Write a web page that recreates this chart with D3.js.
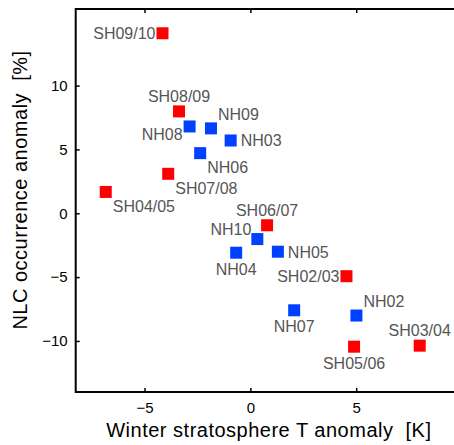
<!DOCTYPE html>
<html>
<head>
<meta charset="utf-8">
<script src="https://cdn.jsdelivr.net/npm/d3@7"></script>
<style>
  html, body { margin: 0; padding: 0; background: #fff; }
  svg { display: block; }
</style>
</head>
<body>
<div id="chart"></div>
<script>
// ---- data ----
const names = ["SH09/10","SH08/09","NH08","NH09","NH03","NH06","SH07/08","SH04/05",
               "NH10","NH04","SH06/07","NH05","SH02/03","NH07","NH02","SH05/06","SH03/04"];
const tempAnomaly = [-4.15,-3.37,-2.87,-1.86,-0.93,-2.37,-3.88,-6.83,
                     0.33,-0.67,0.79,1.30,4.54,2.07,5.01,4.90,8.00];
const nlcAnomaly  = [14.1,7.98,6.8,6.65,5.7,4.71,3.09,1.67,
                     -2.02,-3.09,-0.94,-3.01,-4.93,-7.6,-8.01,-10.45,-10.37];
const hemisphere  = ["SH","SH","NH","NH","NH","NH","SH","SH",
                     "NH","NH","SH","NH","SH","NH","NH","SH","SH"];
const labelSide   = ["left","above","belowLeft","aboveRight","right","belowRight","belowRight","belowRight",
                     "aboveLeft","below","above","right","left","below","aboveRight","below","above"];
const xTicks = [-5, 0, 5];
const yTicks = [-10, -5, 0, 5, 10];
const xLabel = "Winter stratosphere T anomaly\u00a0\u00a0[K]";
const yLabel = "NLC occurrence anomaly\u00a0\u00a0[%]";

// ---- layout ----
const W = 454, H = 445;
const mLeft = 75.7, mTop = 9, mBottom = 392;
const x = d3.scaleLinear().domain([-8.25, 10]).range([mLeft, mLeft + 18.25 * 21.17]);
const y = d3.scaleLinear().domain([-14, 16]).range([mBottom, mTop]);
const color = d3.scaleOrdinal().domain(["SH","NH"]).range(["#ff0000","#0040ff"]);
const font = "'Liberation Sans', Arial, Helvetica, sans-serif";

const svg = d3.select("#chart").append("svg")
  .attr("width", W).attr("height", H)
  .style("font-family", font);

const x0 = x.range()[0], x1 = x.range()[1];
const fmt = d => d < 0 ? "\u2212" + Math.abs(d) : String(d);

// axes (MATLAB-like, ticks inward)
const gx = svg.append("g").attr("transform", `translate(0,${mBottom})`)
  .call(d3.axisBottom(x).tickValues(xTicks).tickSize(-4).tickPadding(10).tickFormat(fmt));
const gxt = svg.append("g").attr("transform", `translate(0,${mTop})`)
  .call(d3.axisTop(x).tickValues(xTicks).tickSize(-4).tickFormat(""));
const gy = svg.append("g").attr("transform", `translate(${mLeft},0)`)
  .call(d3.axisLeft(y).tickValues(yTicks).tickSize(-4).tickPadding(8).tickFormat(fmt));
[gx, gxt, gy].forEach(g => {
  g.select(".domain").remove();
  g.selectAll(".tick line").attr("stroke", "#000").attr("stroke-width", 1.5);
  g.selectAll(".tick text").attr("fill", "#000").style("font-size", "15px").style("font-family", font);
});

// frame lines (left, top, bottom; right is outside the window)
svg.append("path")
  .attr("d", `M${x1},${mTop}H${mLeft}V${mBottom}H${x1}`)
  .attr("fill", "none").attr("stroke", "#000").attr("stroke-width", 2);

// markers
const size = 12;
svg.append("g").selectAll("rect").data(names).join("rect")
  .attr("x", (d, i) => x(tempAnomaly[i]) - size / 2)
  .attr("y", (d, i) => y(nlcAnomaly[i]) - size / 2)
  .attr("width", size).attr("height", size)
  .attr("fill", (d, i) => color(hemisphere[i]));

// point labels
const place = {
  left:       {anchor: "end",    dx: -7, dy: 5.5},
  right:      {anchor: "start",  dx: 10, dy: 6},
  above:      {anchor: "middle", dx: 0,  dy: -9.5},
  below:      {anchor: "middle", dx: 0,  dy: 22},
  aboveRight: {anchor: "start",  dx: 7,  dy: -8.7},
  belowRight: {anchor: "start",  dx: 7,  dy: 20},
  belowLeft:  {anchor: "end",    dx: -7, dy: 14},
  aboveLeft:  {anchor: "end",    dx: -6, dy: -4}
};
svg.append("g").selectAll("text").data(names).join("text")
  .attr("x", (d, i) => x(tempAnomaly[i]) + place[labelSide[i]].dx)
  .attr("y", (d, i) => y(nlcAnomaly[i]) + place[labelSide[i]].dy)
  .attr("text-anchor", (d, i) => place[labelSide[i]].anchor)
  .attr("fill", "#555")
  .style("font-size", "16px")
  .text(d => d);

// axis titles
svg.append("text")
  .attr("x", (x0 + x1) / 2).attr("y", 436.7)
  .attr("text-anchor", "middle")
  .style("font-size", "20px").style("letter-spacing", "0.5px")
  .attr("fill", "#000")
  .text(xLabel);
svg.append("text")
  .attr("transform", `translate(26.5,190) rotate(-90)`)
  .attr("text-anchor", "middle")
  .style("font-size", "20px").style("letter-spacing", "0.5px")
  .attr("fill", "#000")
  .text(yLabel);
</script>
</body>
</html>
